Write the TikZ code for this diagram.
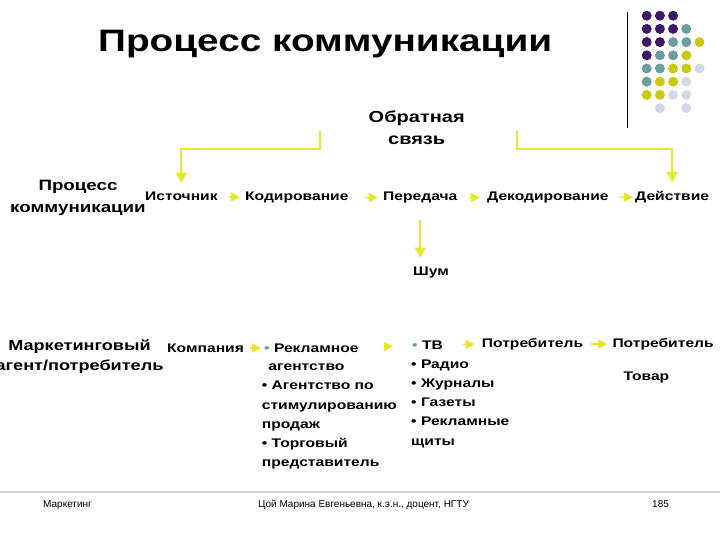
\documentclass[tikz,border=0pt]{standalone}
\usepackage{fontspec}
\setmainfont{Liberation Sans}[FakeStretch=1.25]
\newfontfamily\footfont{Liberation Sans}
\usepackage{tikz}
\usetikzlibrary{positioning, arrows.meta}
\definecolor{mypurple}{RGB}{61, 25, 102}
\definecolor{myteal}{RGB}{107, 158, 158}
\definecolor{myolive}{RGB}{204, 200, 20}
\definecolor{mylilac}{RGB}{214, 214, 234}
\definecolor{myyellow}{RGB}{232, 230, 40}
\definecolor{mygrey}{RGB}{210, 210, 222}

\begin{document}
\begin{tikzpicture}[x=1pt, y=-1pt,
    txt/.style={font=\fontsize{12.5}{19.2}\selectfont\bfseries, inner sep=0pt, anchor=base west, align=left},
    head/.style={inner sep=0pt, anchor=base, align=center},
    flow/.style={myyellow, line width=1.5pt, -{Triangle[length=9pt, width=9pt]}},
    fb/.style={myyellow, line width=2pt, -{Triangle[length=10pt, width=11pt]}},
    foot/.style={font=\footfont\fontsize{10}{12}\selectfont, inner sep=0pt, anchor=base west}]
    \useasboundingbox (0,0) rectangle (720,540);

    % Dots in the corner
    \draw[black] (627,12) -- (627,128);
    \foreach \c/\r/\col in {0/0/mypurple, 1/0/mypurple, 2/0/mypurple,
        0/1/mypurple, 1/1/mypurple, 2/1/mypurple, 3/1/myteal,
        0/2/mypurple, 1/2/mypurple, 2/2/myteal, 3/2/myteal, 4/2/myolive,
        0/3/mypurple, 1/3/myteal, 2/3/myteal, 3/3/myolive,
        0/4/myteal, 1/4/myteal, 2/4/myolive, 3/4/myolive, 4/4/mylilac,
        0/5/myteal, 1/5/myolive, 2/5/myolive, 3/5/mylilac,
        0/6/myolive, 1/6/myolive, 2/6/mylilac, 3/6/mylilac,
        1/7/mylilac, 3/7/mylilac}
        \fill[\col] ({646.7+13.2*\c},{15.7+13.2*\r}) circle (5pt);

    \node[anchor=base west, inner sep=0pt, font=\fontsize{31}{36}\selectfont\bfseries] (title) at (98,51.7) {Процесс коммуникации};

    % multi-line nodes sit on their last line
    \node[head, font=\fontsize{16}{22}\selectfont\bfseries] (back) at (416.7,144.3) {Обратная\\связь};
    \node[head, font=\fontsize{15}{21.7}\selectfont\bfseries] (proc) at (78,212.7) {Процесс\\коммуникации};
    \node[head, font=\fontsize{14.5}{20.7}\selectfont\bfseries] (mark) at (79.5,370.7) {Маркетинговый\\агент/потребитель};

    % Communication chain
    \node[txt] (src) at (145,200.5) {Источник};
    \node[txt] (cod) at (245,200.5) {Кодирование};
    \node[txt] (tr) at (383,200.5) {Передача};
    \node[txt] (dec) at (487,200.5) {Декодирование};
    \node[txt] (act) at (635,200.5) {Действие};
    \node[txt] (noise) at (413,275.5) {Шум};

    \draw[flow, shorten <=11pt, shorten >=5pt] (src.east) -- (cod.west);
    \draw[flow, shorten <=16pt, shorten >=5pt] (cod.east) -- (tr.west);
    \draw[flow, shorten <=11pt, shorten >=7pt] (tr.east) -- (dec.west);
    \draw[flow, shorten <=11pt, shorten >=2pt] (dec.east) -- (act.west);

    % Feedback
    \coordinate (fbl) at (320,131);
    \coordinate (fbr) at (517,131);
    \draw[fb, shorten >=9pt] (fbl) -- ++(0,18) -| (src);
    \draw[fb, shorten >=9pt] (fbr) -- ++(0,18) -| (act);
    \draw[fb, shorten <=17pt, shorten >=9pt] (tr.south) -- (tr.south |- noise.north);

    % Marketing chain
    \node[txt] (comp) at (167,352.3) {Компания};
    \node[txt] (ad) at (264,352.3) {{\color{myteal}•} Рекламное};
    \node[txt] (adlist) at (261.7,466.7) {\hspace*{6.5pt}агентство\\• Агентство по\\стимулированию\\продаж\\• Торговый\\представитель};
    \node[txt] (tv) at (412,349.3) {{\color{myteal}•} ТВ};
    \node[txt] (media) at (411,445) {• Радио\\• Журналы\\• Газеты\\• Рекламные\\щиты};
    \node[txt] (cons) at (481.7,347.3) {Потребитель};
    \node[txt] (user) at (612.3,347.3) {Потребитель};
    \node[txt] (goods) at (623.3,380) {Товар};

    \draw[flow, shorten <=6pt, shorten >=3pt] (comp.east) -- (ad.west);
    \draw[flow, shorten <=25pt, shorten >=19pt] (ad.east) -- (tv.west);
    \draw[flow, shorten <=20pt, shorten >=7pt] (tv.east) -- (cons.west);
    \draw[flow, shorten <=8pt, shorten >=5pt] (cons.east) -- (user.west);

    % Footer
    \draw[mygrey, line width=2.5pt] (0,492) -- (720,492);
    \node[foot] (f1) at (43,507.7) {Маркетинг};
    \node[foot] (f2) at (258,507.7) {Цой Марина Евгеньевна, к.э.н., доцент, НГТУ};
    \node[foot] (f3) at (652,507.7) {185};
\end{tikzpicture}
\end{document}
